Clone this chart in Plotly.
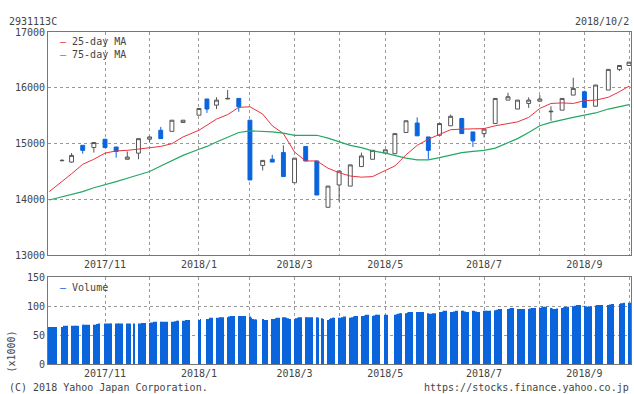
import plotly.graph_objects as go
import pandas as pd

FONT = "DejaVu Sans Mono"
BLUE = "#0a64dc"
GRAY = "#555555"
RED = "#e8323c"
GREEN = "#22a862"

# Weekly candles (first trading day of each week)
candle_dates = [
    "2017-10-10", "2017-10-16", "2017-10-23", "2017-10-30", "2017-11-06", "2017-11-13",
    "2017-11-20", "2017-11-27", "2017-12-04", "2017-12-11", "2017-12-18", "2017-12-25",
    "2018-01-04", "2018-01-09", "2018-01-15", "2018-01-22", "2018-01-29", "2018-02-05",
    "2018-02-13", "2018-02-19", "2018-02-26", "2018-03-05", "2018-03-12", "2018-03-19",
    "2018-03-26", "2018-04-02", "2018-04-09", "2018-04-16", "2018-04-23", "2018-05-01",
    "2018-05-07", "2018-05-14", "2018-05-21", "2018-05-28", "2018-06-04", "2018-06-11",
    "2018-06-18", "2018-06-25", "2018-07-02", "2018-07-09", "2018-07-17", "2018-07-23",
    "2018-07-30", "2018-08-06", "2018-08-13", "2018-08-20", "2018-08-27", "2018-09-03",
    "2018-09-10", "2018-09-18", "2018-09-25", "2018-10-01",
]
opens = [14695, 14670, 14970, 14930, 15080, 14940, 14720, 14830, 15080, 15240, 15220, 15380,
         15510, 15800, 15690, 15800, 15810, 15420, 14610, 14720, 14840, 14300, 14950, 14690,
         13860, 14260, 14240, 14590, 14720, 14830, 14820, 15200, 15370, 15120, 15150, 15320,
         15450, 15210, 15180, 15360, 15780, 15620, 15720, 15760, 15570, 15600, 15870, 15930,
         15670, 15960, 16330, 16400]
highs = [14720, 14830, 14970, 15020, 15080, 14940, 14860, 15090, 15130, 15300, 15420, 15420,
         15630, 15800, 15830, 15960, 15810, 15420, 14700, 14800, 14970, 14740, 14950, 14690,
         14240, 14510, 14620, 14840, 14880, 14890, 15180, 15410, 15470, 15120, 15360, 15520,
         15450, 15210, 15260, 15810, 15910, 15780, 15830, 15870, 15670, 15810, 16180, 15950,
         16050, 16330, 16400, 16460]
lows = [14680, 14660, 14820, 14840, 14930, 14750, 14720, 14720, 15030, 15090, 15220, 15380,
        15510, 15550, 15620, 15800, 15570, 14350, 14520, 14670, 14410, 14300, 14690, 14080,
        13860, 13960, 14240, 14590, 14720, 14830, 14820, 15200, 15140, 14720, 15150, 15320,
        15180, 14940, 15110, 15360, 15780, 15620, 15640, 15760, 15410, 15600, 15870, 15650,
        15670, 15960, 16300, 16400]
closes = [14700, 14790, 14880, 15020, 14930, 14860, 14760, 15090, 15120, 15090, 15420, 15420,
          15630, 15620, 15780, 15810, 15660, 14350, 14700, 14670, 14410, 14740, 14690, 14080,
          14240, 14510, 14620, 14780, 14880, 14890, 15180, 15410, 15140, 14880, 15360, 15490,
          15180, 15050, 15260, 15810, 15840, 15780, 15780, 15800, 15580, 15810, 15990, 15650,
          16050, 16330, 16400, 16460]

# Moving averages read at the start, at each candle, and at the end
ma_dates = ["2017-10-02"] + candle_dates + ["2018-10-02"]
ma25 = [14140, 14320, 14460, 14630, 14720, 14830, 14870, 14880, 14900, 14930, 14950, 15000,
        15120, 15240, 15330, 15440, 15520, 15650, 15660, 15530, 15320, 15180, 14850, 14690,
        14690, 14560, 14480, 14420, 14400, 14410, 14520, 14600, 14800, 14970, 15080, 15170,
        15250, 15260, 15260, 15270, 15320, 15360, 15390, 15470, 15630, 15720, 15730, 15720,
        15770, 15780, 15830, 15930, 16030]
ma75 = [13990, 14050, 14090, 14140, 14210, 14260, 14320, 14380, 14440, 14500, 14600, 14690,
        14790, 14900, 14950, 15030, 15120, 15200, 15230, 15220, 15210, 15190, 15150, 15150,
        15150, 15100, 15030, 14970, 14930, 14870, 14830, 14790, 14740, 14710, 14710, 14750,
        14800, 14840, 14860, 14880, 14920, 15020, 15090, 15200, 15320, 15380, 15430, 15470,
        15510, 15550, 15620, 15660, 15700]

# Daily volume (x1000), one row per week
volume = [
    64, 64, 64, 64, 64,
    64, 66, 66, 66,
    66, 66, 66, 66, 66,
    68, 68, 68, 68, 68,
    68, 68, 69, 70,
    70, 70, 70, 70, 70,
    70, 70, 70, 70, 70,
    70, 70, 70, 70,
    70, 70, 71, 71, 71,
    71, 72, 72, 73, 73,
    73, 73, 73, 73, 73,
    73, 73, 74, 75, 75,
    75, 75, 76, 76, 76,
    76, 78,
    78, 78, 80, 80,
    80, 80, 81, 81, 81,
    81, 82, 83, 83, 83,
    83, 83, 83, 83, 83,
    82, 80, 78, 77, 77,
    78, 76, 76, 76,
    78, 78, 79, 80, 80,
    81, 81, 80, 79, 78,
    78, 79, 80, 81, 81,
    81, 81, 81, 81, 81,
    81, 80, 79, 78,
    76, 78, 79, 80, 80,
    80, 80, 81, 82, 82,
    80, 81, 82, 83, 83,
    83, 83, 84, 85, 85,
    83, 84, 85, 85, 85,
    85, 85,
    85, 86, 87, 88, 88,
    88, 89, 90, 90, 90,
    90, 90, 90, 90, 90,
    88, 87, 87, 88, 88,
    90, 90, 91, 92, 92,
    90, 90, 91, 92, 92,
    92, 92, 91, 90, 90,
    92, 92, 91, 90, 90,
    92, 92, 92, 92, 92,
    93, 94, 95, 95, 95,
    95, 96, 97, 97,
    95, 95, 95, 95, 95,
    95, 96, 97, 97, 97,
    97, 98, 99, 99, 99,
    97, 96, 95, 95, 96,
    97, 98, 99, 99, 99,
    100, 101, 102, 102, 102,
    101, 100, 99, 99, 100,
    101, 102, 102, 102, 102,
    102, 103, 104, 104,
    104, 105, 105, 106,
    106, 106,
]

holidays = ["2017-10-09", "2017-11-03", "2017-11-23", "2018-01-01", "2018-01-02", "2018-01-03",
            "2018-01-08", "2018-02-12", "2018-03-21", "2018-04-30", "2018-05-03", "2018-05-04",
            "2018-07-16", "2018-09-17", "2018-09-24"]
vol_dates = [d.strftime("%Y-%m-%d") for d in pd.bdate_range("2017-10-02", "2018-10-02")
             if d.strftime("%Y-%m-%d") not in holidays]
assert len(vol_dates) == len(volume), (len(vol_dates), len(volume))

price_ticks = [13000, 14000, 15000, 16000, 17000]
volume_ticks = [0, 50, 100, 150]

# Month ticks at the first candle of each new month
tickvals, ticktext = [], []
for i in range(1, len(candle_dates)):
    if candle_dates[i][:7] != candle_dates[i - 1][:7]:
        tickvals.append(candle_dates[i])
        y, m = candle_dates[i][:4], int(candle_dates[i][5:7])
        ticktext.append(f"{y}/{m}" if m % 2 == 1 else "")

fig = go.Figure()
fig.add_trace(go.Scatter(x=ma_dates, y=ma25, mode="lines", line=dict(color=RED, width=1),
                         name="25-day MA", xaxis="x", yaxis="y"))
fig.add_trace(go.Scatter(x=ma_dates, y=ma75, mode="lines", line=dict(color=GREEN, width=1.2),
                         name="75-day MA", xaxis="x", yaxis="y"))
fig.add_trace(go.Candlestick(
    x=candle_dates, open=opens, high=highs, low=lows, close=closes,
    increasing=dict(line=dict(color=GRAY, width=1), fillcolor="white"),
    decreasing=dict(line=dict(color=BLUE, width=1), fillcolor=BLUE),
    xaxis="x", yaxis="y", name="price"))
fig.add_trace(go.Bar(x=vol_dates, y=volume, width=0.5 * 86400000,
                     marker=dict(color=BLUE, line=dict(width=0)),
                     name="Volume", xaxis="x2", yaxis="y2"))

tf = dict(family=FONT, size=10, color="#444")
xcommon = dict(type="date", range=["2017-10-01 05:00", "2018-10-02 06:00"],
               tickvals=tickvals, ticktext=ticktext, showgrid=True, gridcolor="#999",
               griddash="dot", gridwidth=1, showline=True, linecolor="#777", linewidth=1,
               mirror=True, ticks="", tickfont=tf, zeroline=False)
ycommon = dict(showgrid=True, gridcolor="#999", griddash="dot", gridwidth=1, showline=True,
               linecolor="#777", linewidth=1, mirror=True, ticks="", tickfont=tf, zeroline=False)

fig.update_layout(
    width=634, height=394,
    margin=dict(l=48, r=3, t=32, b=30),
    paper_bgcolor="white", plot_bgcolor="white",
    showlegend=False,
    boxgap=0.3,
    xaxis=dict(**xcommon, anchor="y", rangeslider=dict(visible=False)),
    xaxis2=dict(**xcommon, anchor="y2", matches="x"),
    yaxis=dict(**ycommon, domain=[0.3274, 1], range=[13000, 17000],
               tickvals=price_ticks, ticktext=[str(v) for v in price_ticks]),
    yaxis2=dict(**ycommon, domain=[0, 0.2611], range=[0, 150],
                tickvals=volume_ticks, ticktext=[str(v) for v in volume_ticks]),
    font=dict(family=FONT, size=10, color="#444"),
)

ann = [
    dict(text="2931113C", x=7, y=21, xanchor="left"),
    dict(text="2018/10/2", x=631, y=21, xanchor="right"),
    dict(text=f'<span style="color:{RED}">–</span> 25-day MA', x=58, y=41, xanchor="left"),
    dict(text=f'<span style="color:{GREEN}">–</span> 75-day MA', x=58, y=54, xanchor="left"),
    dict(text=f'<span style="color:{BLUE}">–</span> Volume', x=58, y=287, xanchor="left"),
    dict(text="(C) 2018 Yahoo Japan Corporation.", x=7, y=387, xanchor="left"),
    dict(text="https://stocks.finance.yahoo.co.jp", x=631, y=387, xanchor="right"),
]
for a in ann:
    fig.add_annotation(text=a["text"], xref="paper", yref="paper",
                       x=(a["x"] - 48) / 583, y=(364 - a["y"]) / 332,
                       xanchor=a["xanchor"], yanchor="middle", showarrow=False,
                       font=dict(family=FONT, size=10, color="#444"))
fig.add_annotation(text="(x1000)", xref="paper", yref="paper", x=(10.5 - 48) / 583,
                   y=(364 - 352) / 332, textangle=-90, showarrow=False,
                   xanchor="center", yanchor="middle",
                   font=dict(family=FONT, size=10, color="#444"))

fig.write_html("out.html", config={"displayModeBar": False},
               post_script="document.body.style.margin='0px';")
